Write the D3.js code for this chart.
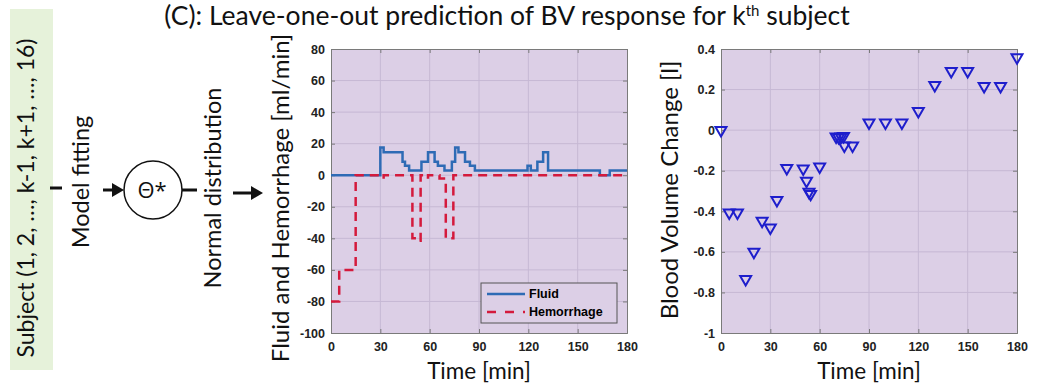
<!DOCTYPE html>
<html lang="en">
<head>
<meta charset="UTF-8">
<title>Leave-one-out prediction of BV response</title>
<script src="https://d3js.org/d3.v7.min.js"></script>
<style>
  body { margin: 0; background: #fff; }
  .tick text { font: bold 12.5px "Liberation Sans", Arial, sans-serif; fill: #222; }
  .lbl { font-family: Lato, "Open Sans", sans-serif; fill: #111; }
</style>
</head>
<body>
<script>
// fluid infusion (step after), ml/min
const fluidT = [0, 30, 32, 43.5, 45, 47.5, 55, 59, 63, 65, 69, 73.5, 75.5, 77.5, 81.5, 84.5, 87.5, 119.5, 121.5, 125.5, 129, 132, 163.5, 169.5, 180];
const fluidV = [0, 17.5, 14.5, 8.5, 6, 3, 8.5, 14.5, 8.5, 6, 3, 8.5, 17.5, 14.5, 8.5, 6, 3, 6, 3, 8.5, 14.5, 3, 0, 3, 3];
// hemorrhage (step after), ml/min
const hemT = [0, 5, 15, 30, 32, 49.5, 52, 54.5, 57, 59, 66, 69.8, 74.4, 180];
const hemV = [-80, -60, 0, -1.5, 0, -40, -41.5, 0, -1.5, 0, -2, -40, 0, 0];
// blood volume change, l
const bvT = [0, 5, 10, 15, 20, 25, 30, 34, 40, 50, 52, 53.5, 54.5, 60, 70, 71.5, 73, 74.5, 75, 80, 90, 100, 110, 120, 130, 140, 150, 160, 170, 180];
const bvV = [0, -0.407, -0.407, -0.735, -0.6, -0.448, -0.481, -0.345, -0.188, -0.19, -0.25, -0.305, -0.315, -0.18, -0.032, -0.035, -0.032, -0.03, -0.077, -0.077, 0.037, 0.037, 0.037, 0.094, 0.222, 0.291, 0.291, 0.217, 0.217, 0.359];

const xTicks = [0, 30, 60, 90, 120, 150, 180];
const y1Ticks = [-100, -80, -60, -40, -20, 0, 20, 40, 60, 80];
const y2Ticks = [-1, -0.8, -0.6, -0.4, -0.2, 0, 0.2, 0.4];

const W = 1045, H = 385;
const svg = d3.select("body").append("svg").attr("width", W).attr("height", H);

const plotBg = "#dccfe6", gridCol = "#c6b8d4", axisCol = "#7a7a7a";

// title
const title = svg.append("text").attr("class", "lbl")
  .attr("x", 507).attr("y", 25).attr("text-anchor", "middle")
  .style("font-size", "26.5px");
title.append("tspan").text("(C): Leave-one-out prediction of BV response for k");
title.append("tspan").attr("dy", -9).style("font-size", "15px").text("th");
title.append("tspan").attr("dy", 9).text(" subject");

// left diagram
svg.append("rect").attr("x", 10).attr("y", 9).attr("width", 43).attr("height", 361).attr("fill", "#e6f2da");
function vtext(x, y, s, size) {
  svg.append("text").attr("class", "lbl")
    .attr("transform", `translate(${x},${y}) rotate(-90)`)
    .attr("text-anchor", "middle").style("font-size", size + "px").text(s);
}
vtext(34, 198, "Subject (1, 2, \u2026, k-1, k+1, \u2026, 16)", 23);
vtext(89, 182, "Model fitting", 23.5);
vtext(221, 188, "Normal distribution", 23.5);

function arrow(x0, x1, y) {
  svg.append("line").attr("x1", x0).attr("x2", x1 - 10).attr("y1", y).attr("y2", y)
    .attr("stroke", "#111").attr("stroke-width", 3);
  svg.append("path").attr("d", `M${x1 - 12},${y - 7}L${x1},${y}L${x1 - 12},${y + 7}Z`).attr("fill", "#111");
}
svg.append("line").attr("x1", 50).attr("x2", 62).attr("y1", 188).attr("y2", 188).attr("stroke", "#111").attr("stroke-width", 3);
arrow(103, 124, 190);
svg.append("circle").attr("cx", 153).attr("cy", 190).attr("r", 29).attr("fill", "#fff").attr("stroke", "#111").attr("stroke-width", 1.5);
svg.append("text").attr("x", 152).attr("y", 198).attr("text-anchor", "middle")
  .style("font", "22px 'Open Sans', sans-serif").style("fill", "#111").text("\u0398*");
svg.append("line").attr("x1", 182).attr("x2", 197).attr("y1", 190).attr("y2", 190).attr("stroke", "#111").attr("stroke-width", 3);
arrow(233, 263, 193);

// generic axes frame
function frame(x, y, yTicks, fmt) {
  const g = svg.append("g");
  const [x0, x1] = x.range(), [y0, y1] = y.range();
  g.append("rect").attr("x", x0).attr("y", y1).attr("width", x1 - x0).attr("height", y0 - y1).attr("fill", plotBg);
  g.selectAll(".gx").data(xTicks.slice(1, -1)).join("line")
    .attr("x1", d => x(d)).attr("x2", d => x(d)).attr("y1", y0).attr("y2", y1)
    .attr("stroke", gridCol).attr("stroke-width", 1);
  g.selectAll(".gy").data(yTicks.slice(1, -1)).join("line")
    .attr("x1", x0).attr("x2", x1).attr("y1", d => y(d)).attr("y2", d => y(d))
    .attr("stroke", gridCol).attr("stroke-width", 1);
  const ax = g.append("g").attr("transform", `translate(0,${y0})`)
    .call(d3.axisBottom(x).tickValues(xTicks).tickSize(-4).tickPadding(9).tickFormat(d => String(d)));
  const ay = g.append("g").attr("transform", `translate(${x0},0)`)
    .call(d3.axisLeft(y).tickValues(yTicks).tickSize(-4).tickPadding(6).tickFormat(fmt));
  const axT = g.append("g").attr("transform", `translate(0,${y1})`)
    .call(d3.axisTop(x).tickValues(xTicks).tickSize(-4).tickFormat(""));
  const ayR = g.append("g").attr("transform", `translate(${x1},0)`)
    .call(d3.axisRight(y).tickValues(yTicks).tickSize(-4).tickFormat(""));
  [ax, ay, axT, ayR].forEach(a => {
    a.select(".domain").attr("stroke", axisCol);
    a.selectAll(".tick line").attr("stroke", axisCol);
  });
  return g;
}

// panel 1
const x1 = d3.scaleLinear().domain([0, 180]).range([331, 627]);
const y1 = d3.scaleLinear().domain([-100, 80]).range([333, 49]);
frame(x1, y1, y1Ticks, d => String(d));

const stepLine = d3.line().curve(d3.curveStepAfter).x(d => x1(d[0])).y(d => y1(d[1]));
svg.append("path").datum(d3.zip(fluidT, fluidV)).attr("d", stepLine)
  .attr("fill", "none").attr("stroke", "#2e6bb5").attr("stroke-width", 2.5);
svg.append("path").datum(d3.zip(hemT, hemV)).attr("d", stepLine)
  .attr("fill", "none").attr("stroke", "#d41a3c").attr("stroke-width", 2.5).attr("stroke-dasharray", "9,6");

// legend
const lg = svg.append("g");
lg.append("rect").attr("x", 481).attr("y", 283).attr("width", 136).attr("height", 40)
  .attr("fill", plotBg).attr("stroke", "#555").attr("stroke-width", 1);
lg.append("line").attr("x1", 487).attr("x2", 525).attr("y1", 294).attr("y2", 294).attr("stroke", "#2e6bb5").attr("stroke-width", 2.5);
lg.append("line").attr("x1", 487).attr("x2", 525).attr("y1", 312).attr("y2", 312).attr("stroke", "#d41a3c").attr("stroke-width", 2.5).attr("stroke-dasharray", "9,9");
lg.append("text").attr("x", 529).attr("y", 298).style("font", "bold 12.5px 'Liberation Sans', Arial, sans-serif").text("Fluid");
lg.append("text").attr("x", 529).attr("y", 316).style("font", "bold 12.5px 'Liberation Sans', Arial, sans-serif").text("Hemorrhage");

svg.append("text").attr("class", "lbl").attr("x", 479).attr("y", 379).attr("text-anchor", "middle").style("font-size", "22.5px").text("Time [min]");
vtext(289, 198, "Fluid and Hemorrhage [ml/min]", 24);

// panel 2
const x2 = d3.scaleLinear().domain([0, 180]).range([721, 1017]);
const y2 = d3.scaleLinear().domain([-1, 0.4]).range([333, 49]);
frame(x2, y2, y2Ticks, d => String(+d.toFixed(1)));

const tri = d3.symbol().type(d3.symbolTriangle).size(52);
svg.append("g").selectAll("path").data(d3.zip(bvT, bvV)).join("path")
  .attr("transform", d => `translate(${x2(d[0])},${y2(d[1])}) rotate(180)`)
  .attr("d", tri).attr("fill", "none").attr("stroke", "#1e1ecc").attr("stroke-width", 2);

svg.append("text").attr("class", "lbl").attr("x", 869).attr("y", 379).attr("text-anchor", "middle").style("font-size", "22.5px").text("Time [min]");
vtext(678, 190, "Blood Volume Change [l]", 24);
</script>
</body>
</html>
